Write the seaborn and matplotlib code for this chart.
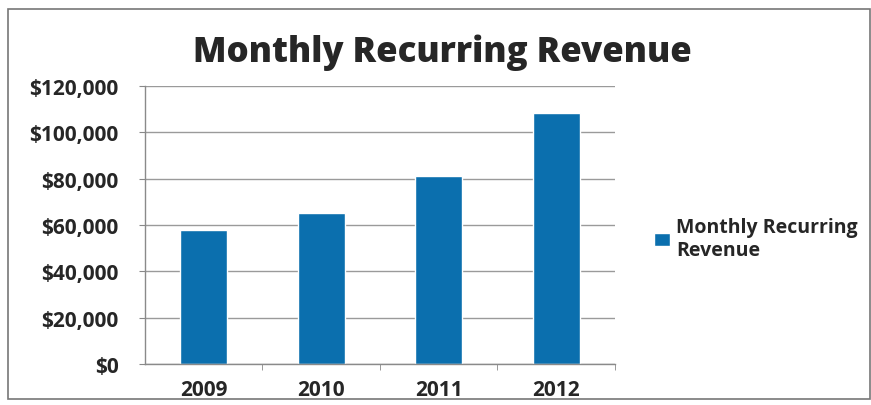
import matplotlib
matplotlib.use('Agg')
import matplotlib.pyplot as plt
import matplotlib.patches as mpatches
import pandas as pd
import seaborn as sns

years = ['2009', '2010', '2011', '2012']
revenue = [58000, 65000, 81000, 108500]
series_name = 'Monthly Recurring Revenue'
yticks = [0, 20000, 40000, 60000, 80000, 100000, 120000]
ytick_labels = ['$0', '$20,000', '$40,000', '$60,000', '$80,000', '$100,000', '$120,000']

df = pd.DataFrame({'Year': years, 'Revenue': revenue, 'Series': series_name})

sns.set_style('white')
plt.rcParams['font.family'] = ['Open Sans', 'DejaVu Sans']

fig = plt.figure(figsize=(8.71, 4.06), dpi=100)
ax = fig.add_axes([0.1665, 0.101, 0.5395, 0.685])

sns.barplot(data=df, x='Year', y='Revenue', hue='Series', palette=['#0b6fae'],
            width=0.4, ax=ax, saturation=1)

ax.set_ylim(0, 120000)
ax.set_yticks(yticks)
ax.set_yticklabels(ytick_labels, fontsize=15, fontweight='bold')
ax.set_xlim(-0.5, 3.5)
ax.set_xticks(range(len(years)))
ax.set_xticklabels(years, fontsize=15, fontweight='bold')
ax.tick_params(axis='x', length=0, pad=11)
ax.tick_params(axis='y', length=4, color='#888888', direction='out', pad=15, left=True)
ax.set_xticks([0.5, 1.5, 2.5, 3.5], minor=True)
ax.tick_params(axis='x', which='minor', length=4, color='#888888', direction='out', bottom=True)
ax.set_xlabel('')
ax.set_ylabel('')
ax.yaxis.grid(True, color='#9a9a9a', linewidth=1)
ax.set_axisbelow(True)
for side in ['top', 'right']:
    ax.spines[side].set_visible(False)
for side in ['left', 'bottom']:
    ax.spines[side].set_color('#8a8a8a')
    ax.spines[side].set_linewidth(1)

ax.set_title(series_name, fontsize=25, fontweight='heavy', pad=18, x=0.632)

leg = ax.legend(loc='center left', bbox_to_anchor=(1.045, 0.45), frameon=False,
                handlelength=0.87, handleheight=0.62, handletextpad=0.3,
                prop={'size': 14, 'weight': 'bold'})
leg.get_texts()[0].set_text('Monthly Recurring\nRevenue')

fig.patches.append(mpatches.Rectangle((0.009, 0.015), 0.99, 0.96, transform=fig.transFigure,
                                      fill=False, edgecolor='#777777', linewidth=1.2))

fig.savefig('out.png', dpi=100)
